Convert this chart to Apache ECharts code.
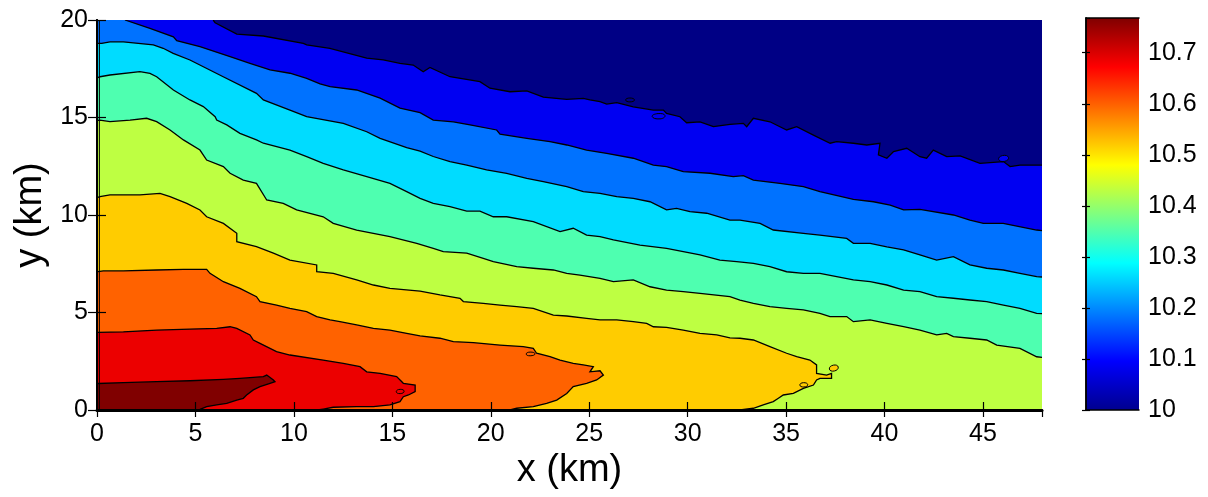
<!DOCTYPE html>
<html><head><meta charset="utf-8">
<script src="https://cdn.jsdelivr.net/npm/echarts@6/dist/echarts.min.js"></script>
<style>html,body{margin:0;padding:0;background:#fff}#c{width:1208px;height:497px}</style>
</head><body><div id="c"></div>
<script>
// ---------- data (km) ----------
const xRange = [0, 48];
const yRange = [0, 20];
const colorbarRange = [10, 10.768];

// band fill colours from top band (lowest value) to bottom band (highest)
const bandColors = ['#000085','#0000F2','#0072FF','#00DCFF','#4EFFB0','#BEFF42','#FFCC00','#FF6200','#EC0000','#800000'];

// jet colormap stops for the colour bar
const jetStops = [[0,'#00008F'],[0.125,'#0000FF'],[0.375,'#00FFFF'],[0.625,'#FFFF00'],[0.875,'#FF0000'],[1,'#800000']];

const contour1 = [[5.9,20],[6.0,19.86],[7.10,19.28],[8.45,19.18],[10.48,18.80],[10.65,18.72],[11.83,18.55],[13.70,18.04],[14.54,17.95],[15.39,17.78],[16.06,17.69],[16.57,17.35],[16.91,17.57],[17.93,17.09],[19.45,16.84],[19.96,16.50],[20.98,16.32],[21.83,16.37],[22.67,16.04],[23.86,15.93],[24.70,15.98],[25.04,15.90],[25.55,15.81],[25.89,15.69],[26.40,15.76],[27.24,15.55],[28.26,15.38],[28.77,15.38],[28.93,15.21],[29.61,15.04],[29.95,14.73],[30.63,14.78],[31.31,14.53],[32.15,14.65],[32.83,14.70],[33.00,14.53],[33.34,14.96],[34.18,14.78],[35.03,14.36],[35.54,14.53],[36.39,14.10],[37.24,13.68],[37.57,13.76],[38.42,13.68],[39.10,13.59],[39.77,13.68],[39.69,13.08],[40.12,12.91],[40.46,13.25],[41.13,13.42],[41.80,12.99],[42.14,12.91],[42.48,13.33],[43.16,12.99],[43.84,13.03],[44.85,12.65],[46.04,12.74],[46.38,12.48],[46.88,12.56],[48,12.56]];
const contour2 = [[1.42,20],[2.69,19.57],[3.88,19.14],[4.05,18.94],[5.23,18.63],[6.76,18.12],[7.77,17.78],[8.79,17.44],[9.80,17.27],[10.65,17.01],[11.33,16.72],[11.84,16.58],[13.19,16.41],[14.38,15.99],[15.39,15.48],[16.41,15.25],[17.08,14.87],[18.10,14.78],[18.95,14.62],[20.30,14.36],[20.47,14.15],[21.83,13.93],[23.01,13.76],[23.86,13.59],[24.87,13.33],[25.89,13.16],[27.24,12.91],[28.26,12.56],[28.93,12.48],[29.78,12.22],[31.14,12.14],[32.32,11.97],[32.83,12.02],[33.34,11.79],[34.69,11.62],[35.88,11.45],[36.72,11.20],[38.42,10.80],[39.44,10.68],[40.29,10.51],[40.97,10.26],[41.80,10.29],[43.50,10.00],[44.34,9.74],[45.02,9.57],[46.03,9.57],[47.73,9.23],[48,9.2]];
const contour3 = [[0.05,18.8],[0.24,18.8],[0.66,18.88],[1.34,18.88],[2.86,18.72],[3.36,18.55],[3.87,18.29],[4.72,17.95],[6.41,17.09],[8.10,16.24],[8.45,15.90],[9.80,15.38],[10.65,15.04],[12.51,14.70],[13.70,14.27],[14.38,13.93],[15.73,13.45],[16.41,13.28],[17.08,13.00],[17.93,12.74],[18.78,12.56],[19.79,12.31],[20.81,12.14],[21.83,11.88],[22.67,11.71],[23.86,11.45],[24.70,11.20],[25.55,11.11],[26.40,10.94],[27.24,10.85],[28.09,10.68],[28.93,10.26],[29.44,10.34],[30.12,10.17],[30.97,10.09],[32.15,9.74],[32.66,9.74],[33.68,9.57],[34.35,9.23],[35.88,9.06],[36.72,8.97],[38.08,8.80],[38.42,8.55],[39.27,8.55],[40.12,8.37],[40.97,8.21],[41.80,7.95],[42.65,7.69],[43.50,7.86],[44.34,7.44],[45.19,7.27],[46.04,7.18],[46.88,7.01],[47.73,6.84],[48,6.82]];
const contour4 = [[0.05,17.05],[0.15,17.09],[0.66,17.18],[2.18,17.35],[2.69,17.26],[3.03,17.09],[3.88,16.41],[4.72,15.90],[5.40,15.56],[6.00,15.04],[6.08,14.87],[6.59,14.62],[7.26,14.19],[8.10,13.85],[8.45,13.68],[9.80,13.33],[10.65,12.99],[11.49,12.65],[12.51,12.31],[13.70,11.97],[14.88,11.62],[15.73,11.20],[16.41,10.85],[17.08,10.60],[17.93,10.43],[18.78,10.20],[19.45,10.20],[20.13,9.91],[20.81,9.91],[22.16,9.66],[23.52,9.15],[24.19,9.32],[24.87,8.97],[25.55,8.89],[26.23,8.72],[27.58,8.46],[28.93,8.29],[29.78,8.12],[30.63,7.95],[31.64,7.69],[32.49,7.61],[33.34,7.52],[34.18,7.35],[35.03,7.09],[35.88,7.01],[36.72,7.01],[37.57,6.84],[38.42,6.67],[39.27,6.58],[40.12,6.41],[40.97,6.15],[41.80,6.07],[42.65,5.81],[43.50,5.73],[44.34,5.64],[45.19,5.56],[46.04,5.38],[46.88,5.21],[47.73,4.96],[48,4.94]];
const contour5 = [[0.05,14.85],[0.15,14.87],[0.66,14.79],[1.68,14.87],[2.52,14.96],[3.03,14.79],[3.71,14.36],[4.39,13.85],[5.23,13.33],[5.57,12.82],[6.42,12.48],[6.76,12.14],[7.43,11.79],[8.10,11.62],[8.62,10.77],[9.46,10.60],[10.14,10.26],[11.49,9.91],[12.00,9.57],[13.19,9.23],[14.88,8.89],[16.24,8.55],[17.08,8.29],[17.59,8.12],[18.78,8.04],[19.62,7.78],[20.13,7.61],[21.32,7.35],[22.16,7.27],[23.18,7.18],[23.86,7.01],[24.53,6.92],[25.55,6.75],[26.23,6.58],[27.24,6.67],[28.09,6.32],[28.93,6.15],[29.78,6.07],[30.63,5.98],[32.15,5.81],[32.66,5.64],[33.34,5.47],[34.18,5.30],[35.03,5.21],[35.88,5.13],[36.72,4.96],[37.23,4.79],[38.08,4.79],[38.42,4.53],[39.27,4.62],[40.12,4.44],[40.97,4.27],[41.80,4.10],[42.65,3.85],[43.16,3.93],[43.50,3.76],[44.34,3.68],[45.19,3.59],[45.70,3.33],[46.88,3.16],[47.73,2.73],[48,2.7]];
const contour6 = [[0.05,10.9],[0.15,10.94],[0.66,11.03],[2.18,11.03],[3.20,11.11],[3.71,10.94],[4.56,10.60],[5.23,10.26],[5.57,9.91],[6.42,9.57],[7.10,9.06],[7.10,8.63],[8.10,8.38],[8.96,8.04],[9.80,7.69],[11.16,7.44],[11.16,7.09],[12.00,7.01],[13.19,6.67],[14.04,6.41],[14.88,6.24],[16.41,6.10],[17.42,5.90],[18.44,5.73],[18.61,5.56],[19.62,5.47],[20.47,5.38],[21.32,5.30],[22.16,5.21],[23.18,4.87],[23.86,4.82],[24.87,4.70],[25.55,4.62],[26.40,4.62],[27.24,4.53],[27.92,4.44],[28.26,4.27],[28.93,4.24],[29.78,4.10],[30.63,3.93],[31.48,3.85],[32.15,3.70],[32.66,3.68],[33.34,3.59],[34.18,3.25],[35.03,2.91],[35.54,2.74],[36.21,2.56],[36.55,2.31],[36.55,1.88],[37.06,1.79],[37.31,1.88],[37.31,1.62],[36.72,1.62],[36.55,1.54],[36.39,1.28],[35.88,1.11],[35.37,0.85],[34.86,0.77],[34.61,0.60],[34.35,0.43],[33.84,0.26],[33.34,0.09],[32.66,0]];
const contour7 = [[0.05,7.1],[0.32,7.13],[1.34,7.13],[3.03,7.18],[4.39,7.21],[5.57,7.21],[5.74,7.01],[6.42,6.58],[7.26,6.24],[8.10,5.81],[8.28,5.56],[9.12,5.38],[9.80,5.21],[10.65,5.04],[11.16,4.79],[11.84,4.62],[12.34,4.53],[13.19,4.36],[14.04,4.19],[14.88,4.10],[15.73,3.93],[16.41,3.80],[17.42,3.68],[18.10,3.51],[19.12,3.45],[20.47,3.33],[21.65,3.25],[22.16,3.16],[22.33,2.91],[23.01,2.74],[23.52,2.56],[24.19,2.39],[24.70,2.31],[25.21,2.22],[25.04,1.96],[25.55,2.01],[25.72,1.79],[25.38,1.54],[24.87,1.37],[24.19,1.20],[23.86,0.85],[23.35,0.51],[22.84,0.34],[22.16,0.17],[21.32,0.09],[20.98,0]];
const contour8 = [[0.05,3.98],[1.34,4.01],[3.03,4.10],[4.72,4.15],[6.08,4.19],[6.76,4.27],[7.10,4.19],[7.77,3.85],[7.94,3.59],[8.28,3.42],[9.12,2.99],[9.80,2.82],[11.49,2.56],[12.51,2.39],[13.36,2.22],[13.70,1.96],[14.38,1.88],[15.22,1.71],[15.56,1.37],[16.16,1.28],[16.16,0.94],[15.82,0.77],[15.56,0.68],[15.39,0.43],[14.88,0.26],[14.04,0.17],[13.19,0.17],[12.00,0.14],[11.49,0.05],[11.2,0]];
const contour9 = [[0.05,1.36],[1.34,1.40],[3.03,1.45],[4.72,1.50],[6.42,1.57],[7.26,1.62],[8.45,1.71],[8.62,1.79],[8.96,1.54],[9.04,1.45],[8.79,1.37],[8.28,1.20],[7.94,1.03],[7.60,0.77],[7.43,0.60],[7.10,0.51],[6.59,0.34],[6.08,0.26],[5.57,0.17],[5.23,0.03],[5.1,0]];

// small closed islands: [band index of fill, outline points]
const islandBands = [1, 0, 1, 6, 6, 7, 8];
const islandShapes = [
  [[28.2,15.05],[28.5,15.2],[28.85,15.1],[28.6,14.93]],
  [[26.85,15.9],[27.07,16.0],[27.3,15.9],[27.07,15.8]],
  [[45.8,12.85],[46.0,13.05],[46.3,12.95],[46.1,12.75]],
  [[37.2,2.1],[37.4,2.3],[37.65,2.2],[37.45,2.0]],
  [[35.7,1.28],[35.88,1.4],[36.1,1.3],[35.9,1.18]],
  [[21.8,2.87],[22.0,2.97],[22.25,2.88],[22.0,2.78]],
  [[15.2,0.94],[15.4,1.06],[15.6,0.96],[15.4,0.84]]
];
const leftEdgeLine = [[0.12,0],[0.12,20]];

const contours = [contour1,contour2,contour3,contour4,contour5,contour6,contour7,contour8,contour9];

// ---------- chart ----------
const FONT = '"Liberation Sans", Arial, Helvetica, sans-serif';
const chart = echarts.init(document.getElementById('c'), null, {renderer:'canvas'});

function bandPolygon(k) {
  if (k === 0) {
    return [[xRange[0],yRange[0]],[xRange[1],yRange[0]],[xRange[1],yRange[1]],[xRange[0],yRange[1]]];
  }
  const c = contours[k-1];
  const pts = [[xRange[0], c[0][1]]].concat(c);
  const last = c[c.length-1];
  if (last[0] >= xRange[1] - 0.1) pts.push([xRange[1], yRange[0]]);
  pts.push([xRange[0], yRange[0]]);
  return pts;
}

const frameLine = {lineStyle:{color:'#000', width:2}};
const tickIn = (len)=>({show:true, inside:true, length:len, lineStyle:{color:'#000', width:1.2}});
const lbl = (m, showMax)=>({show:true, fontSize:25, color:'#000', fontFamily:FONT, margin:m, showMaxLabel:showMax});

chart.setOption({
  animation:false,
  backgroundColor:'#fff',
  grid:[
    {left:97, top:20, width:945, height:390},
    {left:1086, top:18, width:53, height:392}
  ],
  xAxis:[
    {gridIndex:0, type:'value', min:xRange[0], max:xRange[1], interval:5, position:'bottom', z:10,
     axisLine:{show:true, lineStyle:{color:'#000', width:3}}, axisTick:tickIn(8), axisLabel:lbl(12, false), splitLine:{show:false},
     name:'x (km)', nameLocation:'middle', nameGap:39, nameTextStyle:{fontSize:38, color:'#000', fontFamily:FONT}},
    {gridIndex:0, type:'value', min:xRange[0], max:xRange[1], interval:5, position:'top', z:10,
     axisLine:{show:true, ...frameLine}, axisTick:tickIn(7), axisLabel:{show:false}, splitLine:{show:false}},
    {gridIndex:1, type:'value', min:0, max:1, position:'bottom', z:10,
     axisLine:{show:true, lineStyle:{color:'#000', width:1.5}}, axisTick:{show:false}, axisLabel:{show:false}, splitLine:{show:false}},
    {gridIndex:1, type:'value', min:0, max:1, position:'top', z:10,
     axisLine:{show:true, lineStyle:{color:'#000', width:1.5}}, axisTick:{show:false}, axisLabel:{show:false}, splitLine:{show:false}}
  ],
  yAxis:[
    {gridIndex:0, type:'value', min:yRange[0], max:yRange[1], interval:5, position:'left', z:10,
     axisLine:{show:true, ...frameLine}, axisTick:tickIn(9), axisLabel:lbl(9, true), splitLine:{show:false},
     name:'y (km)', nameLocation:'middle', nameGap:46, nameRotate:90, nameTextStyle:{fontSize:38, color:'#000', fontFamily:FONT}},
    {gridIndex:0, type:'value', min:yRange[0], max:yRange[1], interval:5, position:'right', z:10,
     axisLine:{show:true, ...frameLine}, axisTick:tickIn(9), axisLabel:{show:false}, splitLine:{show:false}},
    {gridIndex:1, type:'value', min:colorbarRange[0], max:colorbarRange[1], interval:0.1, position:'right', z:10,
     axisLine:{show:true, lineStyle:{color:'#000', width:1.5}}, axisTick:tickIn(4), axisLabel:lbl(9, false), splitLine:{show:false}},
    {gridIndex:1, type:'value', min:colorbarRange[0], max:colorbarRange[1], interval:0.1, position:'left', z:10,
     axisLine:{show:true, lineStyle:{color:'#000', width:1.5}}, axisTick:tickIn(4), axisLabel:{show:false}, splitLine:{show:false}}
  ],
  series:[
    { // filled bands
      type:'custom', xAxisIndex:0, yAxisIndex:0, clip:true, silent:true,
      data: bandColors.map((c,i)=>[i]),
      renderItem:(params, api)=>{
        const k = api.value(0);
        return {type:'polygon', shape:{points:bandPolygon(k).map(p=>api.coord(p))},
                style:{fill:bandColors[k], stroke:null}};
      }
    },
    { // islands
      type:'custom', xAxisIndex:0, yAxisIndex:0, clip:true, silent:true,
      data: islandShapes.map((s,i)=>[i]),
      renderItem:(params, api)=>{
        const i = api.value(0);
        return {type:'polygon', shape:{points:islandShapes[i].map(p=>api.coord(p)), smooth:0.6},
                style:{fill:bandColors[islandBands[i]], stroke:'#000', lineWidth:1}};
      }
    },
    { // contour lines
      type:'custom', xAxisIndex:0, yAxisIndex:0, clip:true, silent:true,
      data: contours.map((c,i)=>[i]),
      renderItem:(params, api)=>{
        const i = api.value(0);
        return {type:'polyline', shape:{points:contours[i].map(p=>api.coord(p))},
                style:{fill:null, stroke:'#000', lineWidth:1.3}};
      }
    },
    {
      type:'line', xAxisIndex:0, yAxisIndex:0, data:leftEdgeLine, symbol:'none', silent:true,
      lineStyle:{color:'#000', width:1}
    },
    { // colour bar
      type:'custom', xAxisIndex:2, yAxisIndex:2, silent:true,
      data:[[0]],
      renderItem:(params, api)=>{
        const p0 = api.coord([0, colorbarRange[1]]);
        const p1 = api.coord([1, colorbarRange[0]]);
        return {type:'rect', shape:{x:p0[0], y:p0[1], width:p1[0]-p0[0], height:p1[1]-p0[1]},
                style:{fill:{type:'linear', x:0, y:1, x2:0, y2:0, global:false,
                  colorStops:jetStops.map(s=>({offset:s[0], color:s[1]}))}}};
      }
    }
  ]
});
</script>
</body></html>
